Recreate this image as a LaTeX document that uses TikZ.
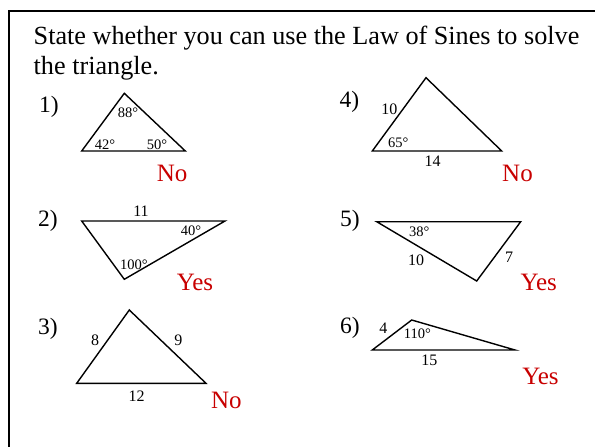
\documentclass[tikz,border=0pt]{standalone}
\usepackage{fontspec}
\setmainfont{Liberation Serif}
\definecolor{ansred}{RGB}{200,0,0}
\begin{document}
\begin{tikzpicture}[x=1pt,y=-1pt,
  tri/.style={line width=1.4pt,line join=miter},
  frame/.style={line width=2pt},
  big/.style={inner sep=0pt,font=\fontsize{26.2}{29}\selectfont},
  num/.style={inner sep=0pt,anchor=base west,font=\fontsize{23.5}{27}\selectfont},
  side/.style={inner sep=0pt,font=\fontsize{16}{18}\selectfont},
  ang/.style={inner sep=0pt,font=\fontsize{14.5}{16}\selectfont},
  ans/.style={inner sep=0pt,anchor=base,text=ansred,font=\fontsize{25}{27}\selectfont}]
\useasboundingbox (0,0) rectangle (595,447);
% frame
\coordinate (f1) at (8.7,447);
\coordinate (f2) at (8.7,10.7);
\coordinate (f3) at (595,10.7);
\draw[frame] (f1) -- (f2) -- (f3);
% title
\node[big,anchor=base west] (t1) at (33.5,45) {State whether you can use the Law of Sines to solve};
\node[big,anchor=base west] (t2) at (33.5,74) {the triangle.};
% item numbers
\node[num] (n1) at (39,112) {1)};
\node[num] (n2) at (38,226.5) {2)};
\node[num] (n3) at (38,334) {3)};
\node[num] (n4) at (339.5,107.5) {4)};
\node[num] (n5) at (340,226.5) {5)};
\node[num] (n6) at (340,333.5) {6)};
% triangle 1
\coordinate (a1) at (124.3,93.3);
\coordinate (b1) at (81.7,151);
\coordinate (c1) at (185.3,151);
\draw[tri] (a1) -- (b1) -- (c1) -- cycle;
\node[ang] (l1a) at (128,112.7) {88°};
\node[ang] (l1b) at (105,144.5) {42°};
\node[ang] (l1c) at (157,144.5) {50°};
\node[ans] (r1) at (172.2,181.7) {No};
% triangle 2
\coordinate (a2) at (81.7,221);
\coordinate (b2) at (225,221);
\coordinate (c2) at (124.3,279.3);
\draw[tri] (a2) -- (b2) -- (c2) -- cycle;
\node[side] (l2a) at (141,211.7) {11};
\node[ang] (l2b) at (191,230.5) {40°};
\node[ang] (l2c) at (134,264.3) {100°};
\node[ans] (r2) at (195,290) {Yes};
% triangle 3
\coordinate (a3) at (129.3,310);
\coordinate (b3) at (76.7,383.3);
\coordinate (c3) at (206,383.3);
\draw[tri] (a3) -- (b3) -- (c3) -- cycle;
\node[side] (l3a) at (95,340.7) {8};
\node[side] (l3b) at (178.3,340.7) {9};
\node[side] (l3c) at (136.7,396) {12};
\node[ans] (r3) at (226.3,408.3) {No};
% triangle 4
\coordinate (a4) at (426,77.7);
\coordinate (b4) at (372.3,151);
\coordinate (c4) at (501.7,151);
\draw[tri] (a4) -- (b4) -- (c4) -- cycle;
\node[side] (l4a) at (389.3,109.3) {10};
\node[ang] (l4b) at (398.3,143) {65°};
\node[side] (l4c) at (432.7,161) {14};
\node[ans] (r4) at (517.5,181.7) {No};
% triangle 5
\coordinate (a5) at (376.7,221.7);
\coordinate (b5) at (520.7,221.7);
\coordinate (c5) at (476.7,281);
\draw[tri] (a5) -- (b5) -- (c5) -- cycle;
\node[ang] (l5a) at (419.3,231.7) {38°};
\node[side] (l5b) at (416,260) {10};
\node[side] (l5c) at (509,257.7) {7};
\node[ans] (r5) at (538.7,290) {Yes};
% triangle 6
\coordinate (a6) at (372.3,350);
\coordinate (b6) at (411.7,320);
\coordinate (c6) at (515,350);
\draw[tri] (a6) -- (b6) -- (c6) -- cycle;
\node[side] (l6a) at (383.3,328.3) {4};
\node[ang] (l6b) at (417.3,333.3) {110°};
\node[side] (l6c) at (429.3,360) {15};
\node[ans] (r6) at (540.5,384) {Yes};
\end{tikzpicture}
\end{document}
